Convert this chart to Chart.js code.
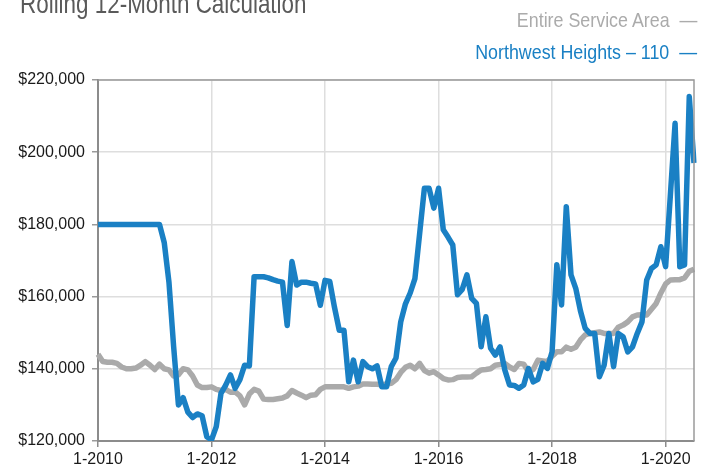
<!DOCTYPE html>
<html>
<head>
<meta charset="utf-8">
<script src="https://cdn.jsdelivr.net/npm/chart.js@4"></script>
<style>
  body { margin: 0; background: #fff; }
  #wrap { position: relative; width: 706px; height: 468px; overflow: hidden; }
  #chart { position: absolute; left: 0; top: 0; }
  .txt { position: absolute; white-space: nowrap; font-family: "Liberation Sans", Arial, sans-serif; }
  #title { left: 20px; top: -9px; font-size: 27px; line-height: 27px; color: #5a5a5a; transform: scaleX(0.83); transform-origin: left top; }
  .lg { right: 9px; font-size: 21px; line-height: 21px; transform: scaleX(0.85); transform-origin: right top; }
  #lg1 { top: 9px; color: #ababab; }
  #lg2 { top: 41px; color: #1a80c4; }
</style>
</head>
<body>
<div id="wrap">
  <canvas id="chart" width="706" height="468"></canvas>
  <div id="title" class="txt">Rolling 12-Month Calculation</div>
  <div id="lg1" class="txt lg">Entire Service Area &nbsp;—</div>
  <div id="lg2" class="txt lg">Northwest Heights – 110 &nbsp;—</div>
</div>
<script>
// months 1-2010 .. 7-2020
const startYear = 2010;
const monthCount = 127;
const monthLabels = [];
for (let i = 0; i < monthCount; i++) {
    monthLabels.push((i % 12 + 1) + "-" + (startYear + Math.floor(i / 12)));
}

const seriesNames = ["Northwest Heights – 110", "Entire Service Area"];

const northwestHeights = [
    180000, 180000, 180000, 180000, 180000, 180000, 180000, 180000, 180000, 180000, 180000, 180000,
    180000, 180000, 175000, 164000, 146000, 130000, 132000, 128000, 126500, 127500, 127000, 121200,
    120300, 124000, 133200, 135500, 138300, 134600, 137000, 141000, 140800, 165500, 165500, 165500,
    165200, 164700, 164300, 164000, 152000, 169700, 163200, 164000, 164000, 163700, 163500, 157600,
    164500, 164200, 157000, 150700, 150700, 136400, 142400, 136400, 142000, 140600, 140000, 140800,
    135000, 135000, 140600, 143000, 153000, 158000, 161000, 165000, 177500, 190000, 190000, 184500,
    190000, 178500, 176500, 174300, 160500, 162000, 166000, 159500, 158100, 146100, 154400, 145700,
    143800, 146100, 139700, 135500, 135400, 134600, 135500, 140100, 136400, 137100, 141500, 140100,
    144700, 168800, 157700, 184900, 166000, 162300, 156000, 151200, 149800, 149800, 137800, 141000,
    149800, 140600, 149800, 148900, 144700, 146100, 149800, 153000, 164600, 167800, 168800, 173800,
    168300, 188000, 208000, 168300, 168800, 215400, 197000
];

const entireServiceArea = [
    144000, 142000, 141800, 141800, 141500, 140500, 140000, 140000, 140200, 141000, 142000, 141000,
    139800, 141300, 140000, 139700, 138000, 138300, 140000, 139700, 138000, 135500, 134800, 134800,
    135000, 134300, 134000, 134300, 133500, 133600, 132500, 130000, 133000, 134300, 133800, 131600,
    131500, 131500, 131700, 131900, 132500, 134000, 133300, 132700, 132000, 132700, 132800, 134300,
    135000, 135000, 135000, 135000, 135000, 134600, 135000, 135200, 135800, 135800, 135700, 135700,
    135600, 135800, 136000, 137000, 139000, 140400, 141000, 140000, 141500, 139500, 138800, 139200,
    138300, 137300, 136900, 137000, 137600, 137700, 137700, 137800, 138800, 139700, 139800, 140000,
    141000, 141200, 141500, 140500, 139800, 141500, 141300, 139200, 139800, 142400, 142200, 142000,
    143500, 144700, 144700, 146000, 145400, 146000, 148000, 149400, 149800, 150000, 150200, 149800,
    149800, 149800, 151500, 152100, 153000, 154400, 154900, 155000, 154900, 156500, 158100, 161000,
    163500, 164600, 164700, 164700, 165200, 167000, 167600
];

const yMin = 120000;
const yMax = 220000;
const yStep = 20000;

// thin grey frame on top and right of the plot
const framePlugin = {
    id: "frame",
    afterDatasetsDraw(chart) {
        const { ctx, chartArea } = chart;
        ctx.save();
        ctx.strokeStyle = "#9a9a9a";
        ctx.lineWidth = 1.5;
        ctx.beginPath();
        ctx.moveTo(chartArea.left, chartArea.top);
        ctx.lineTo(chartArea.right, chartArea.top);
        ctx.lineTo(chartArea.right, chartArea.bottom);
        ctx.stroke();
        ctx.restore();
    },
};

const tickFont = { family: "'Liberation Sans', Arial, sans-serif", size: 16 };

const chartContext = document.getElementById("chart");

const chartData = {
    labels: monthLabels,
    datasets: [
        {
            label: seriesNames[0],
            data: northwestHeights,
            borderColor: "#1a80c4",
            borderWidth: 5.5,
            pointRadius: 0,
            borderJoinStyle: "round",
            tension: 0,
        },
        {
            label: seriesNames[1],
            data: entireServiceArea,
            borderColor: "#aaaaaa",
            borderWidth: 5.5,
            pointRadius: 0,
            borderJoinStyle: "round",
            tension: 0,
        },
    ],
};

const chartConfig = {
    type: "line",
    data: chartData,
    options: {
        responsive: false,
        animation: false,
        layout: { padding: { top: 80, right: 12, left: 0, bottom: 0 } },
        plugins: {
            legend: { display: false },
            title: { display: false },
            tooltip: { enabled: false },
        },
        scales: {
            x: {
                offset: false,
                afterFit: (scale) => { scale.height = 27; },
                border: { color: "#8c8c8c", width: 2 },
                grid: { color: "#dedede", lineWidth: 1.5, tickLength: 6, tickColor: "#8c8c8c" },
                ticks: {
                    autoSkip: false,
                    maxRotation: 0,
                    padding: 3,
                    color: "#1a1a1a",
                    font: tickFont,
                    callback: function (value, index) {
                        return index % 24 === 0 ? this.getLabelForValue(value) : null;
                    },
                },
            },
            y: {
                min: yMin,
                max: yMax,
                afterFit: (scale) => { scale.width = 98; },
                border: { color: "#8c8c8c", width: 2 },
                grid: { color: "#dedede", lineWidth: 1.5, tickLength: 6, tickColor: "#9a9a9a" },
                ticks: {
                    stepSize: yStep,
                    padding: 7,
                    color: "#1a1a1a",
                    font: tickFont,
                    callback: (value) => "$" + value.toLocaleString("en-US"),
                },
            },
        },
    },
    plugins: [framePlugin],
};

const lineChart = new Chart(chartContext, chartConfig);
</script>
</body>
</html>
